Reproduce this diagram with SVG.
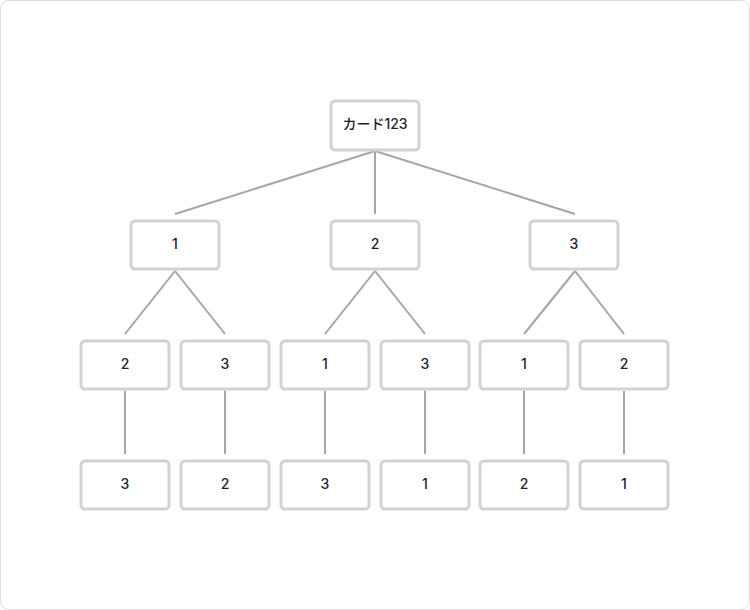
<svg xmlns="http://www.w3.org/2000/svg" width="750" height="610" viewBox="0 0 750 610">
<style>
.b{fill:#fff;stroke:#d2d2d2;stroke-width:3}
.t{font-family:"Inter","Noto Sans CJK JP",sans-serif;font-size:14px;font-weight:500;fill:#1f2233;text-anchor:middle;dominant-baseline:central}
.c line{stroke:#a3a5b3;stroke-width:2}
</style>
<rect x="0.5" y="0.5" width="749" height="609" rx="8" fill="#fff" stroke="#dcdcdc"/>
<g class="c">
<line x1="375" y1="151" x2="175" y2="214"/><line x1="375" y1="151" x2="375" y2="214"/><line x1="375" y1="151" x2="575" y2="214"/>
<line x1="175" y1="271" x2="125" y2="334"/><line x1="175" y1="271" x2="225" y2="334"/>
<line x1="375" y1="271" x2="325" y2="334"/><line x1="375" y1="271" x2="425" y2="334"/>
<line x1="575" y1="271" x2="524" y2="334"/><line x1="575" y1="271" x2="624" y2="334"/>
<line x1="125" y1="391" x2="125" y2="454"/><line x1="225" y1="391" x2="225" y2="454"/><line x1="325" y1="391" x2="325" y2="454"/>
<line x1="425" y1="391" x2="425" y2="454"/><line x1="524" y1="391" x2="524" y2="454"/><line x1="624" y1="391" x2="624" y2="454"/>
</g>
<g id="root"><rect class="b" x="331" y="101" width="88" height="49" rx="4"/><text class="t" x="375" y="123.5">カード123</text></g>
<g id="n1"><rect class="b" x="131" y="221" width="88" height="48" rx="4"/><text class="t" x="175" y="243">1</text></g>
<g id="n2"><rect class="b" x="331" y="221" width="88" height="48" rx="4"/><text class="t" x="375" y="243">2</text></g>
<g id="n3"><rect class="b" x="530" y="221" width="88" height="48" rx="4"/><text class="t" x="574" y="243">3</text></g>
<g id="n12"><rect class="b" x="81" y="341" width="88" height="48" rx="4"/><text class="t" x="125" y="363">2</text></g>
<g id="n13"><rect class="b" x="181" y="341" width="88" height="48" rx="4"/><text class="t" x="225" y="363">3</text></g>
<g id="n21"><rect class="b" x="281" y="341" width="88" height="48" rx="4"/><text class="t" x="325" y="363">1</text></g>
<g id="n23"><rect class="b" x="381" y="341" width="88" height="48" rx="4"/><text class="t" x="425" y="363">3</text></g>
<g id="n31"><rect class="b" x="480" y="341" width="88" height="48" rx="4"/><text class="t" x="524" y="363">1</text></g>
<g id="n32"><rect class="b" x="580" y="341" width="88" height="48" rx="4"/><text class="t" x="624" y="363">2</text></g>
<g id="n123"><rect class="b" x="81" y="461" width="88" height="48" rx="4"/><text class="t" x="125" y="483">3</text></g>
<g id="n132"><rect class="b" x="181" y="461" width="88" height="48" rx="4"/><text class="t" x="225" y="483">2</text></g>
<g id="n213"><rect class="b" x="281" y="461" width="88" height="48" rx="4"/><text class="t" x="325" y="483">3</text></g>
<g id="n231"><rect class="b" x="381" y="461" width="88" height="48" rx="4"/><text class="t" x="425" y="483">1</text></g>
<g id="n312"><rect class="b" x="480" y="461" width="88" height="48" rx="4"/><text class="t" x="524" y="483">2</text></g>
<g id="n321"><rect class="b" x="580" y="461" width="88" height="48" rx="4"/><text class="t" x="624" y="483">1</text></g>
</svg>
